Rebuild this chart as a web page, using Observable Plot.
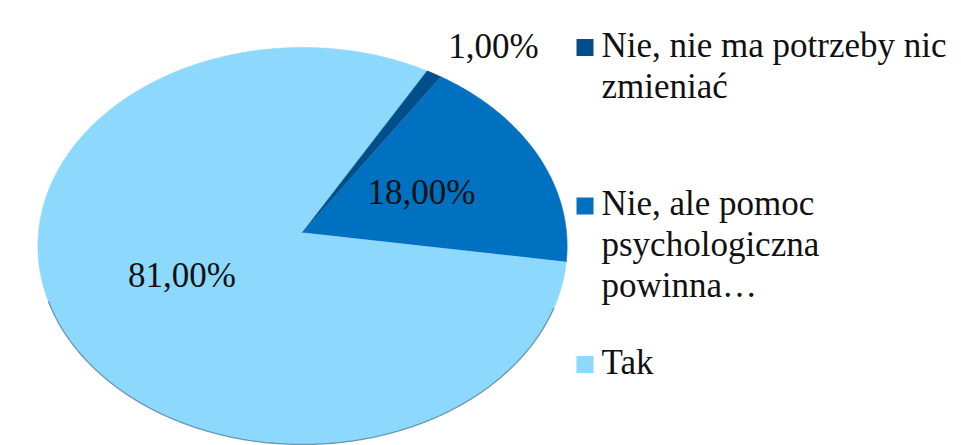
<!DOCTYPE html>
<html><head><meta charset="utf-8">
<script src="https://cdn.jsdelivr.net/npm/d3@7"></script>
<script src="https://cdn.jsdelivr.net/npm/@observablehq/plot@0.6"></script>
<style>body{margin:0;background:#fff;}</style>
</head><body><div id="chart"></div>
<script>
// ---- data ----
const categories = ["Nie, nie ma potrzeby nic zmieniać", "Nie, ale pomoc psychologiczna powinna…", "Tak"];
const values = [1, 18, 81];
const valueLabels = ["1,00%", "18,00%", "81,00%"];
const legendLabels = ["Nie, nie ma potrzeby nic\nzmieniać", "Nie, ale pomoc\npsychologiczna\npowinna…", "Tak"];
const colors = ["#004f8a", "#0070c0", "#8cd9fd"];

// ---- layout ----
const W = 961, H = 445;
const startAngle = 30;          // first slice angle (deg, clockwise from 12 o'clock)
const tilt = 0.068;             // perspective strength
const cx = 302, cy = 232, rx = 264, ry = 197.6;
const serifFamily = "Liberation Serif";
const fs = 35;
const legendX = 601, legendFirstBaseline = 56, legendStep = 158.5, lineH = 41;

function project(deg, r) {
  const a = deg * Math.PI / 180;
  const u = r * Math.sin(a), v = r * Math.cos(a);
  const d = 1 + tilt * v;
  return {X: u / d, Y: v / d};
}

const total = d3.sum(values);
let acc = 0;
const slices = categories.map((name, i) => {
  const a0 = startAngle + acc / total * 360;
  acc += values[i];
  const a1 = startAngle + acc / total * 360;
  return {name, i, a0, a1, label: valueLabels[i], frac: values[i] / total};
});

const piePts = [];
for (const s of slices.slice().reverse()) {
  piePts.push({name: s.name, ...project(0, 0)});
  const n = Math.max(2, Math.ceil((s.a1 - s.a0) / 0.5));
  for (let j = 0; j <= n; j++) piePts.push({name: s.name, ...project(s.a0 + (s.a1 - s.a0) * j / n, 1)});
}

const edgePts = d3.range(112, 251, 1).map(a => project(a, 1));

const labelPts = slices.map(s => {
  const mid = (s.a0 + s.a1) / 2;
  const outside = s.frac < 0.05;
  return {...project(mid, outside ? 1.18 : 0.5), label: s.label, outside};
});

const legendMarks = legendLabels.flatMap((txt, i) => {
  const base = legendFirstBaseline + i * legendStep;
  const n = txt.split("\n").length;
  return [
    Plot.dot([0], {frameAnchor: "top-left", dx: 584.5, dy: base - 9, symbol: "square", r: 9.6, fill: colors[i], stroke: "none"}),
    Plot.text([txt], {frameAnchor: "top-left", dx: legendX, dy: base + (n - 1) * lineH, text: d => d,
      textAnchor: "start", lineAnchor: "bottom", lineHeight: lineH / fs, fontSize: fs, fontFamily: serifFamily, fill: "#111"})
  ];
});

const chart = Plot.plot({
  width: W, height: H, margin: 0,
  x: {domain: [-1, 1], range: [cx - rx, cx + rx], axis: null},
  y: {domain: [-1, 1], range: [cy + ry, cy - ry], axis: null},
  color: {domain: categories, range: colors},
  marks: [
    Plot.line(piePts, {x: "X", y: "Y", z: "name", fill: "name", stroke: "name", strokeWidth: 0.6, curve: "linear"}),
    Plot.line(edgePts, {x: "X", y: "Y", stroke: "#2f4f63", strokeWidth: 1.3, strokeOpacity: 0.5}),
    Plot.text(labelPts.filter(d => !d.outside), {x: "X", y: "Y", text: "label", fontSize: fs, fontFamily: serifFamily, fill: "#111"}),
    Plot.text(labelPts.filter(d => d.outside), {x: "X", y: "Y", text: "label", textAnchor: "start", dx: -8, fontSize: fs, fontFamily: serifFamily, fill: "#111"}),
    ...legendMarks
  ]
});
document.getElementById("chart").appendChild(chart);
d3.select(chart).selectAll("text, tspan").attr("font-family", serifFamily).style("font-family", serifFamily);
</script>
</body></html>
